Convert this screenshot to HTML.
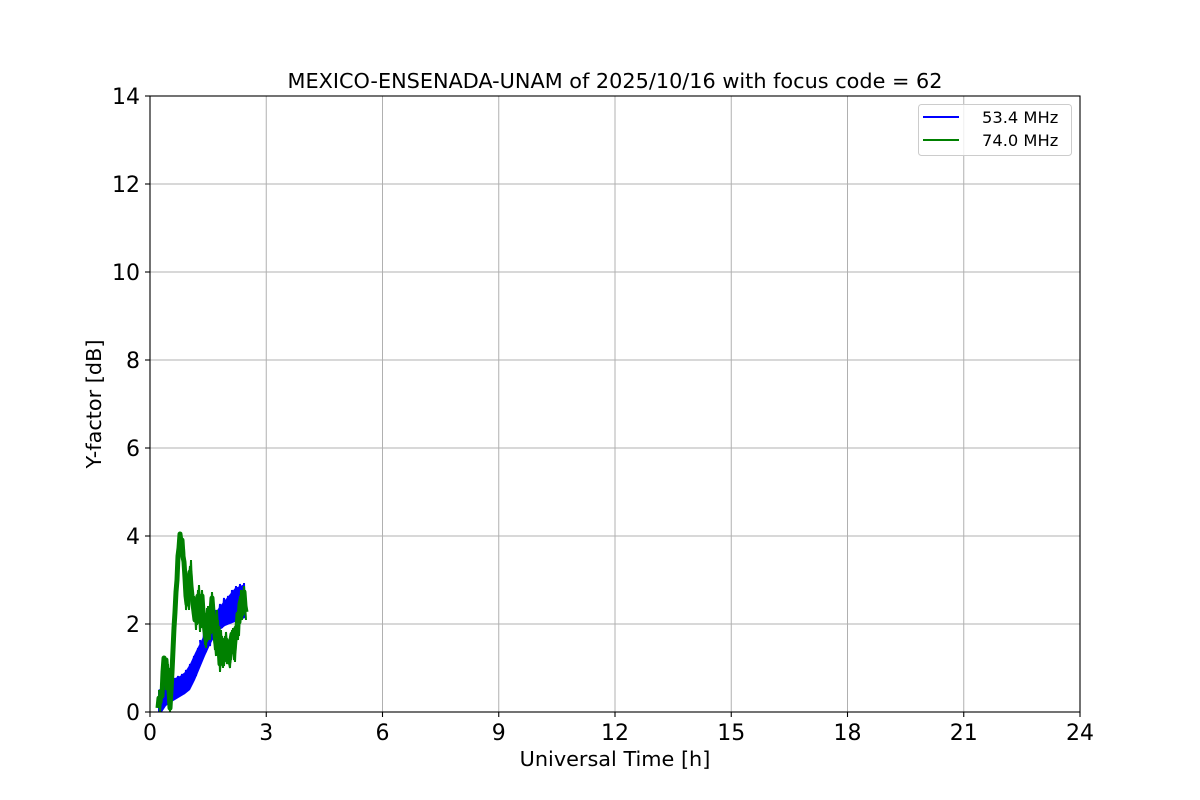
<!DOCTYPE html>
<html><head><meta charset="utf-8"><style>
html,body{margin:0;padding:0;background:#fff;}
svg{display:block;font-family:"DejaVu Sans","Liberation Sans",sans-serif;}
</style></head><body>
<svg width="1200" height="800" viewBox="0 0 1200 800" xmlns="http://www.w3.org/2000/svg">
<rect width="1200" height="800" fill="#fff"/>
<!-- grid -->
<g stroke="#b0b0b0" stroke-width="1">
<line x1="266.25" y1="96" x2="266.25" y2="712"/>
<line x1="382.5" y1="96" x2="382.5" y2="712"/>
<line x1="498.75" y1="96" x2="498.75" y2="712"/>
<line x1="615" y1="96" x2="615" y2="712"/>
<line x1="731.25" y1="96" x2="731.25" y2="712"/>
<line x1="847.5" y1="96" x2="847.5" y2="712"/>
<line x1="963.75" y1="96" x2="963.75" y2="712"/>
<line x1="150" y1="624" x2="1080" y2="624"/>
<line x1="150" y1="536" x2="1080" y2="536"/>
<line x1="150" y1="448" x2="1080" y2="448"/>
<line x1="150" y1="360" x2="1080" y2="360"/>
<line x1="150" y1="272" x2="1080" y2="272"/>
<line x1="150" y1="184" x2="1080" y2="184"/>
</g>
<!-- blue band -->
<polygon fill="#0000ff" points="158,712 158,690 162,688 166,684 170,680 175,678 180,676 185,672 190,664 195,653 200,643 205,633 210,624 215,613 220,606 225,600 230,594 235,588 240,586 245,584 245,618 240,620 235,622 230,624 225,626 220,630 215,636 210,645 205,656 200,668 195,680 190,690 185,694 180,697 175,700 170,703 166,706 162,712"/>
<g stroke="#0000ff" stroke-width="2" fill="none">
<polyline points="200,640 202,660 204,632 206,652 208,626 210,646 212,618 214,640 216,610 218,632 220,604 222,628 224,598 226,624 228,596 230,622 232,590 234,620 236,586 238,618 240,584 242,615 244,583 245,612"/>
<polyline points="160,700 162,688 164,706 166,684 168,702 170,680 172,700 174,678 176,698 178,676 180,696 182,674 184,694 186,670 188,690 190,664 192,684 194,656 196,676 198,648"/>
</g>
<!-- green line -->
<polyline fill="none" stroke="#008000" stroke-width="5" stroke-linejoin="round" points="158,708 159,698 160,702 161,692 162,696 163,672 164,658 165,666 166,660 167,676 168,670 169,690 170,708 171,690 172,672 173,650 174,628 175,612 176,592 177,580 178,556 179,548 180,534 181,542 182,540 183,556 184,562 185,578 186,596 187,604 188,596 189,580 190,572 191,586 192,596 193,604 194,612 195,620 196,616 197,600 198,596 199,612 200,622 201,606 202,596 203,612 204,622 205,632 206,640 207,628 208,614 209,626 210,632 211,612 212,598 213,612 214,622 215,634 216,644 217,636 218,628 219,646 220,664 221,650 222,640 223,652 224,660 225,648 226,640 227,652 228,644 229,662 230,652 231,640 232,634 233,648 234,652 235,640 236,628 237,632 238,614 239,622 240,604 241,600 242,614 243,596 244,592 245,606 246,612"/>
<g fill="none" stroke="#008000" stroke-width="2">
<polyline points="159,690 160,712 161,700 164,662 166,690 168,664 170,712 172,660 174,640 176,600 178,560 180,540 182,560 184,548 186,610 188,588 190,566 192,606 194,596 196,630 198,590 200,632 202,590 204,630 206,648 208,606 210,640 212,592 214,630 216,656 218,620 220,672 222,636 224,666 226,632 228,658 230,668 232,630 234,660 236,620 238,640 240,596 242,620 244,586 246,620"/>
<polyline points="183,545 185,590 187,575 189,610 191,560 193,615 195,600 197,625 199,585 201,628 203,600 205,645 207,608 209,640 211,604 213,628 215,650 217,610 219,655 221,630 223,668 225,636 227,664 229,640 231,660 233,628 235,662 237,618 239,636 241,590 243,612 245,590"/>
</g>
<!-- axes spines -->
<rect x="150" y="96" width="930" height="616" fill="none" stroke="#000" stroke-width="1.1"/>
<!-- ticks -->
<g stroke="#000" stroke-width="1.1">
<line x1="150" y1="712" x2="150" y2="717"/>
<line x1="266.25" y1="712" x2="266.25" y2="717"/>
<line x1="382.5" y1="712" x2="382.5" y2="717"/>
<line x1="498.75" y1="712" x2="498.75" y2="717"/>
<line x1="615" y1="712" x2="615" y2="717"/>
<line x1="731.25" y1="712" x2="731.25" y2="717"/>
<line x1="847.5" y1="712" x2="847.5" y2="717"/>
<line x1="963.75" y1="712" x2="963.75" y2="717"/>
<line x1="1080" y1="712" x2="1080" y2="717"/>
<line x1="145" y1="712" x2="150" y2="712"/>
<line x1="145" y1="624" x2="150" y2="624"/>
<line x1="145" y1="536" x2="150" y2="536"/>
<line x1="145" y1="448" x2="150" y2="448"/>
<line x1="145" y1="360" x2="150" y2="360"/>
<line x1="145" y1="272" x2="150" y2="272"/>
<line x1="145" y1="184" x2="150" y2="184"/>
<line x1="145" y1="96" x2="150" y2="96"/>
</g>
<g font-size="22" fill="#000" text-anchor="middle">
<text x="150" y="740">0</text>
<text x="266.25" y="740">3</text>
<text x="382.5" y="740">6</text>
<text x="498.75" y="740">9</text>
<text x="615" y="740">12</text>
<text x="731.25" y="740">15</text>
<text x="847.5" y="740">18</text>
<text x="963.75" y="740">21</text>
<text x="1080" y="740">24</text>
</g>
<g font-size="22" fill="#000" text-anchor="end">
<text x="140" y="720">0</text>
<text x="140" y="632">2</text>
<text x="140" y="544">4</text>
<text x="140" y="456">6</text>
<text x="140" y="368">8</text>
<text x="140" y="280">10</text>
<text x="140" y="192">12</text>
<text x="140" y="104">14</text>
</g>
<text x="615" y="766" font-size="20.8" text-anchor="middle">Universal Time [h]</text>
<text x="0" y="0" font-size="20.8" text-anchor="middle" transform="translate(101,404) rotate(-90)">Y-factor [dB]</text>
<text x="615" y="88" font-size="20.8" text-anchor="middle">MEXICO-ENSENADA-UNAM of 2025/10/16 with focus code = 62</text>
<!-- legend -->
<rect x="918.5" y="104.5" width="153" height="51" rx="3" ry="3" fill="#fff" fill-opacity="0.8" stroke="#cccccc" stroke-width="1"/>
<line x1="923" y1="117" x2="959" y2="117" stroke="#0000ff" stroke-width="2"/>
<line x1="923" y1="140" x2="959" y2="140" stroke="#008000" stroke-width="2"/>
<text x="982" y="123" font-size="16.3">53.4 MHz</text>
<text x="982" y="146" font-size="16.3">74.0 MHz</text>
</svg>
</body></html>
